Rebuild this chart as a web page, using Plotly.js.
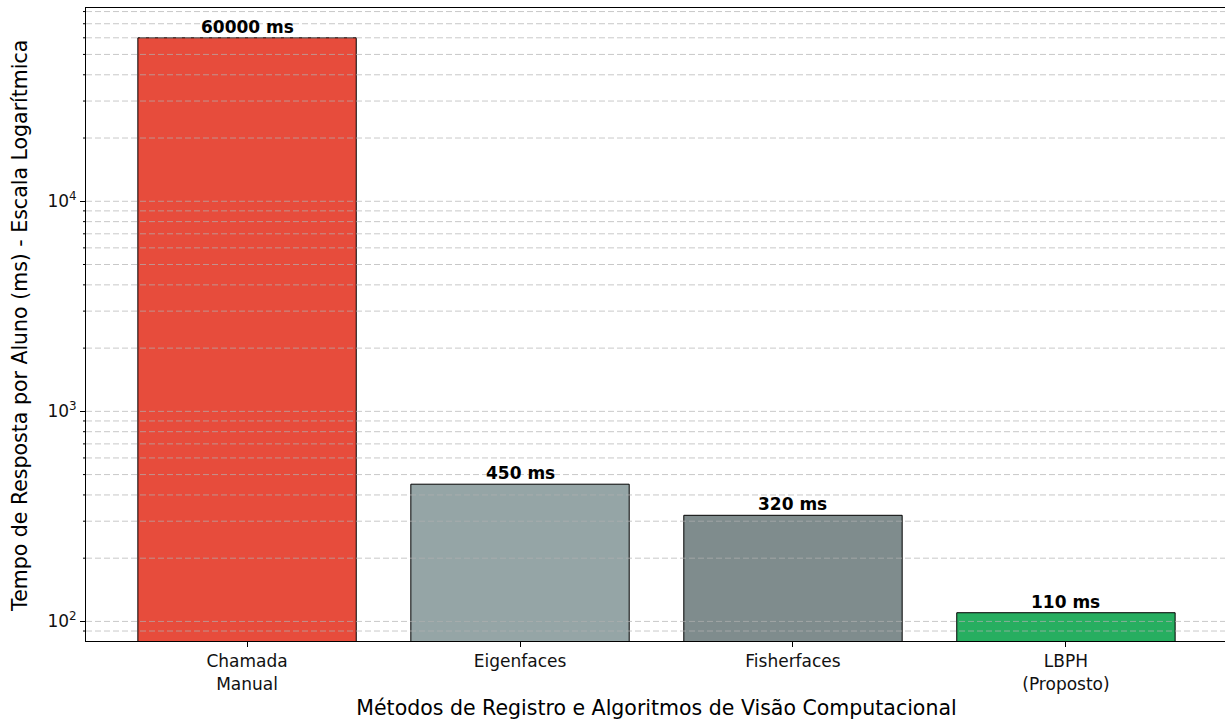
<!DOCTYPE html>
<html>
<head>
<meta charset="utf-8">
<script src="https://cdn.plot.ly/plotly-3.0.1.min.js"></script>
<style>
  html, body { margin: 0; padding: 0; background: #fff; overflow: hidden; }
  #chart { width: 1228px; height: 722px; }
</style>
</head>
<body>
<div id="chart"></div>
<script>
// ---- data ----
const categories = ['Chamada<br>Manual', 'Eigenfaces', 'Fisherfaces', 'LBPH<br>(Proposto)'];
const times_ms = [60000, 450, 320, 110];
const barColors = ['#e74c3c', '#95a5a6', '#7f8c8d', '#27ae60'];
const yTickVals = [100, 1000, 10000];
const yTickText = ['10<sup>2</sup>', '10<sup>3</sup>', '10<sup>4</sup>'];
const decades = [10, 100, 1000, 10000];
const multipliers = [1, 2, 3, 4, 5, 6, 7, 8, 9];

const yRange = [1.9068, 4.920];

const allGrid = [];
decades.forEach(d => multipliers.forEach(m => {
  const v = d * m;
  const lv = Math.log10(v);
  if (lv >= yRange[0] && lv <= yRange[1]) allGrid.push(v);
}));
const minorVals = allGrid.filter(v => yTickVals.indexOf(v) < 0);

const font = 'DejaVu Sans, sans-serif';
const marginL = 86;
const plotW = 1228 - marginL - 1;

const trace = {
  type: 'bar',
  x: categories,
  y: times_ms,
  width: 0.8,
  marker: { color: barColors, line: { color: '#000', width: 1 } },
  hoverinfo: 'x+y'
};

const gridShapes = allGrid.map(v => ({
  type: 'line', xref: 'paper', x0: 0, x1: 1,
  yref: 'y', y0: v, y1: v,
  layer: 'above',
  line: { color: 'rgba(176,176,176,0.7)', width: 1, dash: '6px,3px' }
}));
const minorTickShapes = minorVals.map(v => ({
  type: 'line', xref: 'paper', x0: -3 / plotW, x1: 0,
  yref: 'y', y0: v, y1: v,
  layer: 'above',
  line: { color: '#000', width: 1 }
}));

const barLabels = categories.map((c, i) => ({
  text: '<b>' + times_ms[i] + ' ms</b>',
  x: c, y: Math.log10(times_ms[i]),
  xref: 'x', yref: 'y',
  xanchor: 'center', yanchor: 'bottom',
  yshift: -1,
  showarrow: false,
  font: { family: font, size: 17, color: '#000' }
}));

const layout = {
  width: 1228, height: 722,
  margin: { l: marginL, r: 1, t: 8, b: 81, pad: 0 },
  paper_bgcolor: '#fff', plot_bgcolor: '#fff',
  showlegend: false,
  font: { family: font, size: 17, color: '#000' },
  xaxis: {
    type: 'category',
    range: [-0.59, 3.59],
    showgrid: false,
    showline: true, mirror: true, linecolor: '#000', linewidth: 1,
    ticks: 'outside', ticklen: 5, tickwidth: 1, tickcolor: '#000',
    tickfont: { family: font, size: 17, color: '#111' },
    automargin: false,
    title: { text: 'Métodos de Registro e Algoritmos de Visão Computacional',
             font: { family: font, size: 20.5, color: '#000' }, standoff: 8 }
  },
  yaxis: {
    type: 'log',
    range: yRange,
    showgrid: false, zeroline: false,
    showline: true, mirror: true, linecolor: '#000', linewidth: 1,
    tickmode: 'array', tickvals: yTickVals, ticktext: yTickText,
    ticks: 'outside', ticklen: 5, tickwidth: 1, tickcolor: '#000',
    tickfont: { family: font, size: 17, color: '#111' },
    automargin: false
  },
  annotations: [{
    text: 'Tempo de Resposta por Aluno (ms) - Escala Logarítmica',
    xref: 'paper', yref: 'paper',
    x: (20.5 - marginL) / plotW, y: 0.497,
    xanchor: 'center', yanchor: 'middle',
    textangle: -90, showarrow: false,
    font: { family: font, size: 20.5, color: '#000' }
  }].concat(barLabels),
  shapes: gridShapes.concat(minorTickShapes),
  bargap: 0.2
};

Plotly.newPlot('chart', [trace], layout, { displayModeBar: false, staticPlot: true });
</script>
</body>
</html>
